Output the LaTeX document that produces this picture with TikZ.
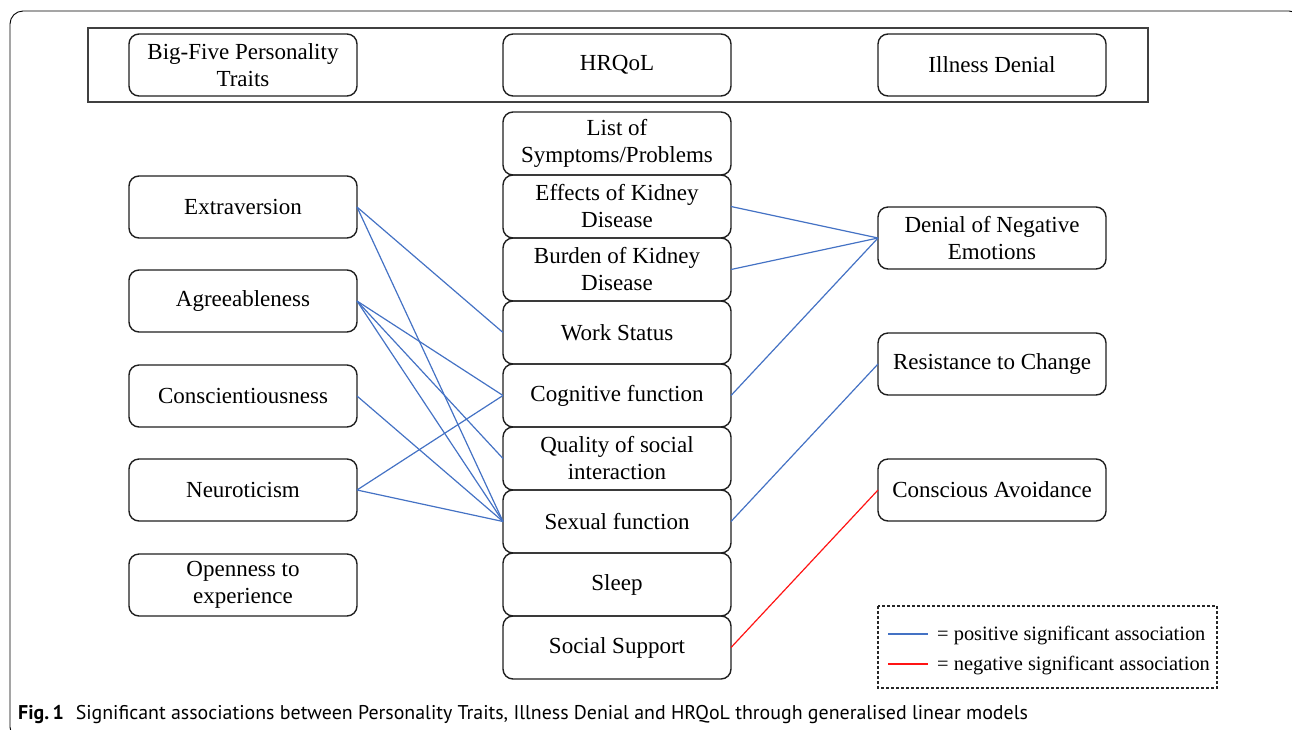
\documentclass[tikz,border=0pt]{standalone}
\usepackage{fontspec}
\setmainfont{Liberation Serif}
\newfontfamily\capfont{PT Sans}
\definecolor{posblue}{RGB}{68,114,196}
\definecolor{negred}{RGB}{255,20,20}
\begin{document}
\begin{tikzpicture}[x=1pt,y=-1pt,
  box/.style={draw=black!88,line width=1.4pt,rounded corners=10pt,minimum width=228pt,
    minimum height=62pt,inner sep=0pt,outer sep=0pt,align=center,
    font=\fontsize{23}{27}\selectfont},
  posline/.style={draw=posblue,line width=1.2pt},
  negline/.style={draw=negred,line width=1.2pt}]
\useasboundingbox (0,0) rectangle (1292,729);
\begin{scope}
\clip (0,0) rectangle (1292,729);
\draw[line width=0.9pt,rounded corners=13pt] (10,11) rectangle (1302,740);
\end{scope}
% header
\draw[draw=black!75,line width=1.4pt] (88,28) rectangle (1148,102);
\node[box] (big) at (243,65) {Big-Five Personality\\Traits};
\node[box] (hrq) at (617,65) {HRQoL};
\node[box] (ill) at (992,65) {Illness Denial};
% left column
\node[box] (ext) at (243,207) {Extraversion};
\node[box] (agr) at (243,301) {Agreeableness};
\node[box] (con) at (243,396) {Conscientiousness};
\node[box] (neu) at (243,490) {Neuroticism};
\node[box] (ope) at (243,585) {Openness to\\experience};
% middle column
\node[box,minimum height=63pt] (lst) at (617,143.5) {List of\\Symptoms/Problems};
\node[box,minimum height=63pt] (eff) at (617,206.5) {Effects of Kidney\\Disease};
\node[box,minimum height=63pt] (bur) at (617,269.5) {Burden of Kidney\\Disease};
\node[box,minimum height=63pt] (wor) at (617,332.5) {Work Status};
\node[box,minimum height=63pt] (cog) at (617,395.5) {Cognitive function};
\node[box,minimum height=63pt] (qsi) at (617,458.5) {Quality of social\\interaction};
\node[box,minimum height=63pt] (sex) at (617,521.5) {Sexual function};
\node[box,minimum height=63pt] (slp) at (617,584.5) {Sleep};
\node[box,minimum height=63pt] (sup) at (617,647.5) {Social Support};
% right column
\node[box] (dne) at (992,238) {Denial of Negative\\Emotions};
\node[box] (res) at (992,364) {Resistance to Change};
\node[box] (avo) at (992,490) {Conscious Avoidance};
% connectors left
\draw[posline] (ext.east) -- (wor.west);
\draw[posline] (ext.east) -- (sex.west);
\draw[posline] (agr.east) -- (cog.west);
\draw[posline] (agr.east) -- (qsi.west);
\draw[posline] (agr.east) -- (sex.west);
\draw[posline] (con.east) -- (sex.west);
\draw[posline] (neu.east) -- (cog.west);
\draw[posline] (neu.east) -- (sex.west);
% connectors right
\draw[posline] (eff.east) -- (dne.west);
\draw[posline] (bur.east) -- (dne.west);
\draw[posline] (cog.east) -- (dne.west);
\draw[posline] (sex.east) -- (res.west);
\draw[negline] (sup.east) -- (avo.west);
% legend
\draw[line width=1.3pt,draw=black!85,dash pattern=on 3pt off 2pt] (878,606) rectangle (1217,688);
\coordinate (lb1) at (888,634);
\coordinate (lb2) at (928,634);
\coordinate (lr1) at (888,664);
\coordinate (lr2) at (928,664);
\draw[posline] (lb1) -- (lb2);
\draw[negline] (lr1) -- (lr2);
\node[anchor=west,inner sep=0pt,font=\fontsize{20.4}{24}\selectfont] (lt1) at (937,636) {= positive significant association};
\node[anchor=west,inner sep=0pt,font=\fontsize{20.4}{24}\selectfont] (lt2) at (937,666) {= negative significant association};
% caption
\node[anchor=base west,inner sep=0pt,font=\capfont\fontsize{19.9}{22}\selectfont] (cap) at (18,719)
  {\textbf{Fig.\,1}\hspace{0.6em}Significant associations between Personality Traits, Illness Denial and HRQoL through generalised linear models};
\end{tikzpicture}
\end{document}
